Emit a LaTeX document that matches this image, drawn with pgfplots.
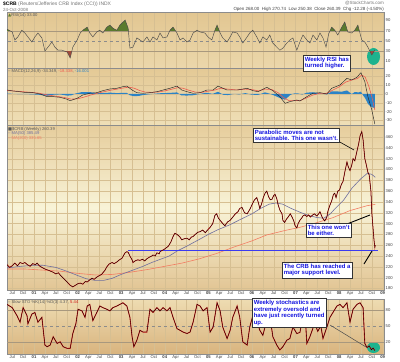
\documentclass[border=0pt]{standalone}
\usepackage{pgfplots}
\pgfplotsset{compat=1.18}
\usepackage{fontspec}
\setmainfont{Liberation Sans}
\newfontfamily\sym{DejaVu Sans}
\definecolor{gridc}{HTML}{D6BF92}
\definecolor{rsiline}{HTML}{4A4A4A}
\definecolor{rsigreen}{HTML}{5B7B2E}
\definecolor{rsired}{HTML}{A04A3A}
\definecolor{tealc}{HTML}{1DB38E}
\definecolor{macdblue}{HTML}{2B83C6}
\definecolor{sigred}{HTML}{EE5A4E}
\definecolor{maA}{HTML}{6E6E9E}
\definecolor{maB}{HTML}{F27C62}
\definecolor{supp}{HTML}{3B3BF0}
\definecolor{annblue}{HTML}{1414E0}
\definecolor{pricered}{HTML}{D01818}
\definecolor{lvl}{HTML}{A8987E}
\definecolor{bgRa}{HTML}{E2C691}
\definecolor{bgRb}{HTML}{EBD7AB}
\definecolor{bgMa}{HTML}{E4C995}
\definecolor{bgMb}{HTML}{EFDFB7}
\definecolor{bgPa}{HTML}{E6CD9C}
\definecolor{bgPm}{HTML}{F8F3D7}
\definecolor{bgPb}{HTML}{E2C594}
\definecolor{bgSa}{HTML}{EEDCB2}
\definecolor{bgSb}{HTML}{D9B47E}
\pgfplotsset{panel/.style={
  scale only axis, width=377bp, xmin=2000.38, xmax=2009.03,
  anchor=north west,
  axis line style={draw=black!45, line width=0.3pt},
  major tick length=0pt,
  yticklabel pos=right,
  /pgf/number format/assume math mode=true,
  ticklabel style={font=\fontsize{4.2}{5}\selectfont, text=black!75},
  yticklabel style={anchor=west, inner sep=1.5pt},
  xticklabel style={inner sep=1.2pt},
  xtick={2000.5,2000.75,2001,2001.25,2001.5,2001.75,2002,2002.25,2002.5,2002.75,2003,2003.25,2003.5,2003.75,2004,2004.25,2004.5,2004.75,2005,2005.25,2005.5,2005.75,2006,2006.25,2006.5,2006.75,2007,2007.25,2007.5,2007.75,2008,2008.25,2008.5,2008.75,2009},
  xmajorgrids, major grid style={color=gridc, line width=0.3pt},
  clip=true,
}, dates/.style={xticklabels={Jul,Oct,\textbf{01},Apr,Jul,Oct,\textbf{02},Apr,Jul,Oct,\textbf{03},Apr,Jul,Oct,\textbf{04},Apr,Jul,Oct,\textbf{05},Apr,Jul,Oct,\textbf{06},Apr,Jul,Oct,\textbf{07},Apr,Jul,Oct,\textbf{08},Apr,Jul,Oct,\textbf{09}}},
gz/.style={fill=rsigreen, draw=none, forget plot}, rz/.style={fill=rsired, draw=none, forget plot}}
\begin{document}
\begin{tikzpicture}
\path (0bp,0bp) rectangle (400bp,-362bp);
% ---------------- RSI
\begin{axis}[panel, at={(7bp,-12bp)}, height=56bp, ymin=-2.7, ymax=106.6,
  ytick={10,30,50,70,90}, xticklabels={},
  axis background/.style={top color=bgRa, bottom color=bgRb}]
\fill[tealc] (axis cs:2008.79,19.8) ellipse [x radius=6.5bp, y radius=8.5bp];
\addplot[lvl, line width=0.35pt, forget plot] coordinates {(2000,70)(2010,70)};
\addplot[lvl, line width=0.35pt, forget plot] coordinates {(2000,30)(2010,30)};
\addplot[black!45, dashed, line width=0.35pt, forget plot] coordinates {(2000,50)(2010,50)};
% overbought (>70) and oversold (<30) zones of the RSI line
\addplot[gz] coordinates {(2000.38,70)(2000.38,73)(2000.447,70)};
\addplot[gz] coordinates {(2000.713,70)(2000.72,71)(2000.733,70)};
\addplot[gz] coordinates {(2002.109,70)(2002.12,71)(2002.22,77)(2002.257,70)};
\addplot[gz] coordinates {(2002.489,70)(2002.51,71)(2002.523,70)};
\addplot[gz] coordinates {(2002.615,70)(2002.67,77)(2002.74,81)(2002.81,75)(2002.90,71)(2002.97,81)(2003.09,91)(2003.16,75)(2003.165,70)};
\addplot[gz] coordinates {(2004.115,70)(2004.12,71)(2004.19,77)(2004.245,70)};
\addplot[gz] coordinates {(2004.723,70)(2004.74,71)(2004.741,70)};
\addplot[gz] coordinates {(2005.146,70)(2005.15,71)(2005.20,81)(2005.25,70)};
\addplot[gz] coordinates {(2006.007,70)(2006.02,71)(2006.027,70)};
\addplot[gz] coordinates {(2007.792,70)(2007.83,77)(2007.90,71)(2007.908,70)};
\addplot[gz] coordinates {(2008.019,70)(2008.06,77)(2008.13,87)(2008.191,70)};
\addplot[gz] coordinates {(2008.347,70)(2008.36,71)(2008.43,81)(2008.464,70)};
\addplot[rz] coordinates {(2001.709,30)(2001.76,28.5)(2001.83,17)(2001.867,30)};
\addplot[rz] coordinates {(2008.707,30)(2008.75,22.7)(2008.78,26.6)(2008.801,30)};
\addplot[rsiline, line width=0.45pt] coordinates {
(2000.38,73)(2000.50,67.6)(2000.56,52)(2000.63,58)(2000.72,71)(2000.79,65.6)(2000.86,58)(2000.95,48)(2001.02,58)(2001.09,65.6)(2001.18,56)(2001.25,30.5)(2001.32,38)(2001.41,48)(2001.48,38)(2001.55,32)(2001.64,32)(2001.76,28.5)(2001.83,17)(2001.89,38)(2001.99,52)(2002.06,65.6)(2002.12,71)(2002.22,77)(2002.28,65.6)(2002.35,58)(2002.44,67.6)(2002.51,71)(2002.58,65.6)(2002.67,77)(2002.74,81)(2002.81,75)(2002.90,71)(2002.97,81)(2003.09,91)(2003.16,75)(2003.20,36)(2003.27,38)(2003.36,56)(2003.43,52)(2003.50,48)(2003.59,58)(2003.66,48)(2003.73,58)(2003.82,52)(2003.89,65.6)(2003.96,56)(2004.05,58)(2004.12,71)(2004.19,77)(2004.28,65.6)(2004.35,52)(2004.42,56)(2004.51,48)(2004.58,52)(2004.65,65.6)(2004.74,71)(2004.81,67.6)(2004.92,65.6)(2004.99,58)(2005.08,52)(2005.15,71)(2005.20,81)(2005.27,65.6)(2005.33,56)(2005.43,48)(2005.50,58)(2005.56,67.6)(2005.66,65.6)(2005.72,58)(2005.79,46)(2005.89,58)(2005.95,65.6)(2006.02,71)(2006.11,58)(2006.18,46)(2006.25,58)(2006.34,52)(2006.41,61.7)(2006.48,46)(2006.57,38)(2006.64,32)(2006.71,36)(2006.80,46)(2006.87,52)(2006.94,56)(2007.03,32)(2007.10,48)(2007.17,61.7)(2007.26,52)(2007.33,46)(2007.40,61.7)(2007.49,52)(2007.56,65.6)(2007.63,56)(2007.70,38)(2007.76,64)(2007.83,77)(2007.90,71)(2007.97,61.7)(2008.06,77)(2008.13,87)(2008.20,67.6)(2008.29,65.6)(2008.36,71)(2008.43,81)(2008.52,52)(2008.59,48)(2008.66,38)(2008.75,22.7)(2008.78,26.6)(2008.82,33)};
\end{axis}
% ---------------- MACD
\begin{axis}[panel, at={(7bp,-68bp)}, height=57bp, ymin=-35.2, ymax=29.5,
  ytick={-30,-20,-10,0,10,20}, xticklabels={}, ymajorgrids,
  axis background/.style={top color=bgMa, bottom color=bgMb}]
\addplot[fill=macdblue, draw=none] coordinates {
(2000.38,0.5)(2000.6,0)(2000.9,-0.3)(2001.1,-0.8)(2001.3,-2.0)(2001.45,-0.8)(2001.6,-0.5)(2001.76,-1.8)(2001.85,-1.6)(2001.95,0.5)(2002.1,2.2)(2002.2,2.0)(2002.3,2.0)(2002.45,0.8)(2002.6,1.2)(2002.75,1.5)(2002.9,1.0)(2003.05,1.3)(2003.13,1.2)(2003.2,-1.5)(2003.3,-2.5)(2003.4,-2.2)(2003.5,-1.2)(2003.65,-0.3)(2003.8,0.5)(2003.95,1.0)(2004.1,1.2)(2004.28,1.8)(2004.38,-1.5)(2004.5,-1.8)(2004.65,-1.4)(2004.8,0)(2004.95,1.4)(2005.1,0.2)(2005.22,2.5)(2005.35,-1.0)(2005.45,-1.2)(2005.6,0.2)(2005.7,-0.5)(2005.85,1.0)(2006.0,-0.8)(2006.14,-1.0)(2006.3,1.8)(2006.4,0.5)(2006.5,-1.5)(2006.64,-4.5)(2006.76,-6.5)(2006.87,-1.5)(2006.95,0.5)(2007.05,0.8)(2007.15,-0.6)(2007.26,1.5)(2007.4,2.0)(2007.56,0.7)(2007.72,-0.5)(2007.83,3.0)(2007.95,3.0)(2008.05,2.5)(2008.18,4.0)(2008.29,0)(2008.36,2.2)(2008.45,1.8)(2008.5,2.7)(2008.55,-1.5)(2008.6,-5.0)(2008.66,-11)(2008.72,-14)(2008.76,-15)(2008.82,-16)} \closedcycle;
\addplot[sigred, line width=0.6pt] coordinates {
(2000.38,4.0)(2000.6,3.2)(2000.9,2.0)(2001.1,1.0)(2001.3,-1.0)(2001.5,-2.5)(2001.7,-4.0)(2001.85,-5.8)(2002.0,-5.5)(2002.15,-3.5)(2002.3,-1.2)(2002.45,0.8)(2002.6,2.5)(2002.75,4.2)(2002.9,5.5)(2003.05,6.8)(2003.18,7.8)(2003.3,6.5)(2003.42,4.0)(2003.55,2.2)(2003.7,1.8)(2003.85,2.3)(2004.0,3.5)(2004.15,5.3)(2004.3,7.2)(2004.42,6.5)(2004.55,4.3)(2004.7,2.2)(2004.85,1.8)(2005.0,3.2)(2005.15,4.5)(2005.28,6.5)(2005.45,5.5)(2005.65,4.6)(2005.85,5.5)(2006.0,5.0)(2006.15,3.5)(2006.3,5.5)(2006.45,5.2)(2006.6,1.5)(2006.72,-4.0)(2006.85,-7.5)(2007.0,-7.5)(2007.12,-7.2)(2007.25,-4.5)(2007.4,-1.2)(2007.55,0.8)(2007.7,0.5)(2007.82,3.5)(2008.0,8.0)(2008.15,13.5)(2008.3,16.0)(2008.42,17.5)(2008.52,21.5)(2008.6,19.0)(2008.68,9.0)(2008.75,-3.0)(2008.82,-18.3)};
\addplot[black!85, line width=0.45pt] coordinates {
(2000.38,4.5)(2000.52,3.4)(2000.68,2.5)(2000.84,1.5)(2000.98,1.5)(2001.14,0)(2001.30,-3)(2001.44,-3)(2001.60,-3.8)(2001.76,-6)(2001.83,-7.6)(2001.99,-4.9)(2002.12,-1.1)(2002.28,0.8)(2002.44,1.5)(2002.58,3.8)(2002.74,5.7)(2002.90,6.5)(2003.04,8.3)(2003.13,9)(2003.25,4.5)(2003.36,1.5)(2003.50,0.8)(2003.66,1.5)(2003.82,2.6)(2003.96,4.5)(2004.12,6.5)(2004.28,9)(2004.39,4.5)(2004.51,2.6)(2004.65,0.8)(2004.81,1.5)(2004.97,4.5)(2005.11,4.5)(2005.22,9)(2005.43,4.5)(2005.66,4.5)(2005.89,6.5)(2006.02,3.8)(2006.14,2.6)(2006.34,7.6)(2006.48,3.8)(2006.64,-3)(2006.76,-10.6)(2006.87,-8.7)(2007.03,-6.8)(2007.10,-8)(2007.26,-3)(2007.40,0.8)(2007.56,1.5)(2007.72,0)(2007.83,6.5)(2008.02,10.2)(2008.18,17.8)(2008.29,15.9)(2008.41,19)(2008.50,24.2)(2008.59,14)(2008.66,-3)(2008.75,-18)(2008.82,-34.3)};
\end{axis}
% ---------------- Price
\begin{axis}[panel, dates, at={(7bp,-125bp)}, height=165bp, ymin=177.2, ymax=482.2,
  ytick={180,200,...,460}, ymajorgrids,
  axis background/.style={top color=bgPa, bottom color=bgPb, middle color=bgPm}]
\addplot[maB, line width=0.6pt] coordinates {
(2000.38,216)(2000.8,216)(2001.2,214)(2001.6,212)(2002.0,208)(2002.4,205)(2002.8,206)(2003.2,210)(2003.6,215)(2004.0,221)(2004.4,227)(2004.8,235)(2005.2,245)(2005.6,257)(2006.0,268)(2006.34,279)(2006.8,288)(2007.1,293)(2007.5,302)(2007.86,311)(2008.25,324)(2008.64,333)(2008.83,335.6)};
\addplot[maA, line width=0.6pt] coordinates {
(2000.38,218)(2000.7,221)(2001.0,223)(2001.2,223)(2001.5,219)(2001.75,212)(2002.0,204)(2002.2,198)(2002.4,195)(2002.6,195)(2002.8,199)(2003.0,206)(2003.27,214)(2003.5,221)(2003.7,228)(2003.9,234)(2004.1,240)(2004.3,250)(2004.5,258)(2004.8,271)(2005.0,280)(2005.2,288)(2005.5,298)(2005.72,307)(2006.0,318)(2006.2,328)(2006.4,336)(2006.55,338)(2006.7,336)(2006.9,328)(2007.1,321)(2007.3,315)(2007.5,311)(2007.65,310)(2007.8,318)(2007.9,327)(2008.1,343)(2008.3,366)(2008.5,383)(2008.65,393)(2008.75,391)(2008.83,385.5)};
\addplot[supp, line width=0.7pt] coordinates {(2003.16,251)(2008.89,251)};
\pgfplotstableread{
x y
2000.38 224
2000.44 219
2000.50 222
2000.56 227
2000.62 222
2000.68 228
2000.74 226
2000.79 228
2000.85 224
2000.91 221
2000.97 226
2001.03 224
2001.07 227
2001.12 222
2001.18 219
2001.25 216
2001.32 214
2001.38 212
2001.44 210
2001.50 207
2001.56 209
2001.60 205
2001.66 200
2001.71 196
2001.77 191
2001.83 186
2001.89 183
2001.95 186
2002.01 189
2002.06 190
2002.12 188
2002.18 193
2002.22 192
2002.28 196
2002.33 199
2002.38 197
2002.44 201
2002.50 204
2002.55 206
2002.58 209
2002.63 214
2002.67 220
2002.72 225
2002.79 228
2002.84 226
2002.90 229
2002.96 233
2003.02 236
2003.06 242
2003.09 246
2003.13 248
2003.16 247
2003.20 240
2003.25 233
2003.27 228
2003.32 231
2003.38 233
2003.43 232
2003.49 234
2003.54 231
2003.59 235
2003.65 238
2003.70 240
2003.73 242
2003.78 240
2003.82 246
2003.87 244
2003.89 248
2003.93 250
2003.98 252
2004.03 255
2004.08 258
2004.14 266
2004.19 276
2004.23 282
2004.28 280
2004.34 276
2004.39 270
2004.45 272
2004.51 273
2004.56 270
2004.61 275
2004.65 276
2004.70 280
2004.76 284
2004.81 285
2004.87 288
2004.93 283
2004.98 288
2005.04 293
2005.10 300
2005.15 315
2005.19 318
2005.23 310
2005.27 306
2005.33 300
2005.38 296
2005.44 303
2005.50 306
2005.56 312
2005.62 318
2005.68 322
2005.72 328
2005.77 330
2005.83 320
2005.89 318
2005.95 326
2006.02 338
2006.06 344
2006.11 348
2006.15 338
2006.18 328
2006.22 336
2006.26 348
2006.30 356
2006.34 360
2006.38 350
2006.42 344
2006.46 345
2006.50 352
2006.53 354
2006.57 346
2006.60 335
2006.64 325
2006.69 318
2006.71 306
2006.75 302
2006.79 308
2006.83 312
2006.88 318
2006.92 312
2006.96 305
2006.99 296
2007.03 292
2007.06 300
2007.10 306
2007.14 310
2007.17 314
2007.21 316
2007.26 313
2007.30 316
2007.34 312
2007.38 315
2007.43 318
2007.49 314
2007.53 318
2007.56 322
2007.61 312
2007.64 308
2007.67 305
2007.72 312
2007.74 322
2007.78 332
2007.83 342
2007.87 354
2007.90 356
2007.93 348
2007.97 360
2008.01 362
2008.05 372
2008.09 378
2008.13 395
2008.18 414
2008.21 405
2008.25 398
2008.29 408
2008.32 420
2008.36 416
2008.41 434
2008.45 448
2008.48 462
2008.52 470
2008.55 455
2008.59 420
2008.62 410
2008.66 395
2008.69 390
2008.71 375
2008.73 360
2008.75 320
2008.78 290
2008.80 270
2008.82 256
2008.83 260
}\pricetab
\addplot[pricered, line width=0.75pt] table {\pricetab};
\addplot[black, line width=0.3pt] table {\pricetab};
\end{axis}
% ---------------- Stochastics
\begin{axis}[panel, dates, at={(7bp,-299bp)}, height=55bp, ymin=-2, ymax=100,
  ytick={20,50,80},
  axis background/.style={top color=bgSa, bottom color=bgSb}]
\fill[tealc] (axis cs:2008.79,10) ellipse [x radius=6.5bp, y radius=5.5bp];
\addplot[lvl, line width=0.35pt, forget plot] coordinates {(2000,80)(2010,80)};
\addplot[lvl, line width=0.35pt, forget plot] coordinates {(2000,20)(2010,20)};
\addplot[black!45, dashed, line width=0.35pt, forget plot] coordinates {(2000,50)(2010,50)};
\pgfplotstableread{
x y
2000.38 90
2000.50 84
2000.61 69
2000.68 57
2000.75 84
2000.84 69
2000.86 54
2000.95 72
2001.02 75
2001.09 57
2001.18 66
2001.25 14.5
2001.30 11.5
2001.37 14.5
2001.44 30
2001.53 17.6
2001.60 20.6
2001.67 11.5
2001.76 8.5
2001.83 8.5
2001.89 36
2001.96 54
2002.01 81
2002.10 78
2002.17 66
2002.22 87
2002.28 90
2002.35 60
2002.44 75
2002.51 87
2002.58 84
2002.67 81
2002.74 78
2002.81 84
2002.90 87
2002.97 90
2003.04 93
2003.13 87
2003.20 66
2003.25 30
2003.29 11.5
2003.36 23.6
2003.43 42
2003.50 38.7
2003.59 38.7
2003.66 81
2003.73 75
2003.82 84
2003.89 78
2003.96 84
2004.05 78
2004.12 84
2004.19 66
2004.28 45
2004.35 42
2004.42 38.7
2004.51 36
2004.58 38.7
2004.65 57
2004.74 90
2004.81 87
2004.88 78
2004.97 84
2005.04 38.7
2005.11 48
2005.20 93
2005.27 78
2005.33 48
2005.43 26.7
2005.50 42
2005.56 66
2005.66 87
2005.72 66
2005.79 20.6
2005.89 14.5
2005.95 48
2006.02 69
2006.11 60
2006.18 42
2006.25 32.7
2006.34 60
2006.41 69
2006.48 30
2006.57 14.5
2006.64 5.5
2006.71 11.5
2006.80 23.6
2006.87 26.7
2006.94 48
2007.03 36
2007.10 38
2007.17 66
2007.22 70
2007.26 17.6
2007.33 30
2007.44 55
2007.51 40
2007.58 50
2007.63 26.7
2007.72 48
2007.79 66
2007.95 87
2008.02 90
2008.09 84
2008.18 93
2008.25 57
2008.32 81
2008.41 90
2008.48 93
2008.55 84
2008.59 17.6
2008.64 10
2008.69 13
2008.74 6
2008.78 9
2008.82 4.4
}\stotab
\addplot[pricered, line width=0.9pt] table {\stotab};
\addplot[black, line width=0.3pt] table {\stotab};
\end{axis}
\begin{scope}[x=1bp,y=1bp]
% ---------------- header and legends
\node[anchor=west, inner sep=0, font=\fontsize{5}{6}\selectfont] at (3,-4.5) {\textbf{\$CRB} \textcolor{black!55}{(Reuters/Jefferies CRB Index (CCI)) INDX}};
\node[anchor=west, inner sep=0, font=\fontsize{4.5}{5}\selectfont, text=black!55] at (3,-9.5) {24-Oct-2008};
\node[anchor=east, inner sep=0, font=\fontsize{4.5}{5}\selectfont, text=black!55] at (384,-3.5) {@StockCharts.com};
\node[anchor=east, inner sep=0, font=\fontsize{4.5}{5}\selectfont, text=black!75] at (384,-9.5) {Open 268.00 \ High 270.74 \ Low 250.38 \ Close 260.39 \ Chg -12.28 (-4.50\%)};
\node[anchor=west, inner sep=0, font=\fontsize{4.2}{5}\selectfont, text=black!65] at (8,-15) {{\sym\textcolor{rsigreen}{▲}}RSI(14) 33.00};
\node[anchor=west, inner sep=0, font=\fontsize{4.2}{5}\selectfont, text=black!65] at (8,-71.5) {-- MACD(12,26,9) -34.349, \textcolor{sigred}{-18.338}, \textcolor{macdblue}{-16.001}};
\node[anchor=west, inner sep=0, font=\fontsize{4.2}{5}\selectfont, text=black!65] at (8,-129) {{\sym■}\$CRB (Weekly) 260.39};
\node[anchor=west, inner sep=0, font=\fontsize{4.2}{5}\selectfont, text=maA] at (8,-133.5) {-- MA(50) 385.49};
\node[anchor=west, inner sep=0, font=\fontsize{4.2}{5}\selectfont, text=maB] at (8,-138) {-- MA(200) 335.65};
\node[anchor=west, inner sep=0, font=\fontsize{4.2}{5}\selectfont, text=black!65] at (8,-302) {-- Slow STO \%K(14) \%D(3) 4.37, \textcolor{pricered}{5.44}};
% ---------------- annotations
\tikzset{ann/.style={draw=black!80, fill=white, line width=0.4pt, inner sep=1.6pt, align=left, anchor=north west, text=annblue, font=\fontsize{6}{6.9}\selectfont\bfseries}}
\draw[black, line width=0.6pt] (338,-141) -- (354,-150);
\draw[black, line width=0.9pt] (347,-224) -- (370,-215);
\draw[black, line width=0.9pt] (364,-264) -- (372,-251);
\draw[black!70, line width=0.5pt] (330,-325) -- (366,-347);
\node[ann] at (303,-55) {Weekly RSI has\\turned higher.};
\node[ann] at (253,-128) {Parabolic moves are not\\sustainable. This one wasn't.};
\node[ann] at (306,-223) {This one won't\\be either.};
\node[ann] at (282,-262) {The CRB has reached a\\major support level.};
\node[ann] at (252,-298) {Weekly stochastics are\\extremely oversold and\\have just recently turned\\up.};
\end{scope}
\end{tikzpicture}
\end{document}
